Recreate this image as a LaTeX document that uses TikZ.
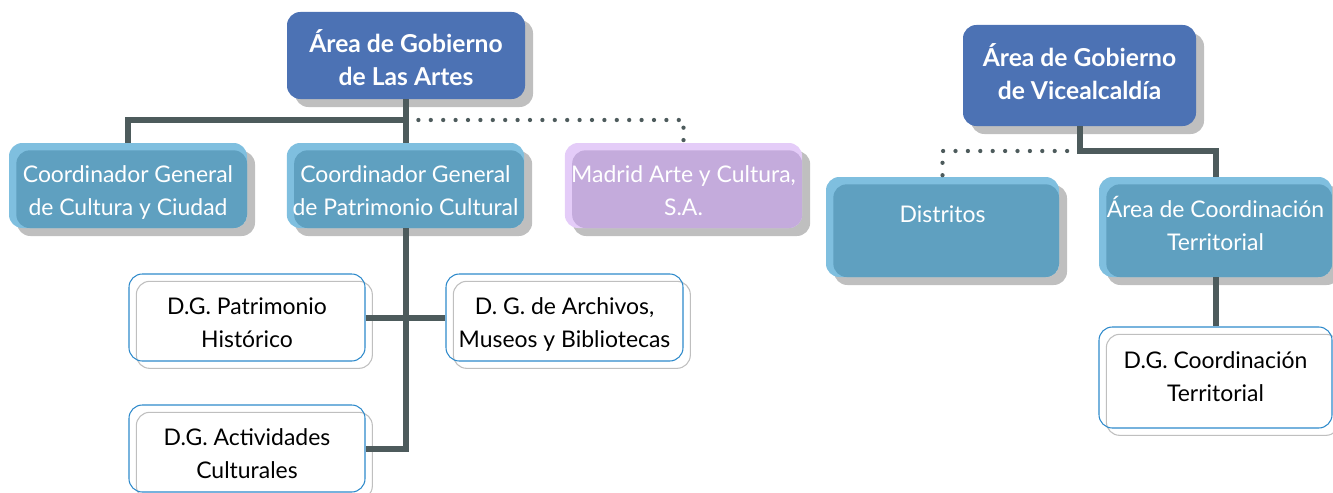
\documentclass[tikz,border=0pt]{standalone}
\usepackage{fontspec}
\setmainfont{Lato}
\usetikzlibrary{shadows}
\definecolor{titleblue}{RGB}{76,114,180}
\definecolor{rimblue}{RGB}{127,191,223}
\definecolor{midblue}{RGB}{95,160,192}
\definecolor{rimpurple}{RGB}{228,204,248}
\definecolor{midpurple}{RGB}{196,171,220}
\definecolor{shadowgray}{RGB}{191,191,191}
\definecolor{connector}{RGB}{77,91,92}
\definecolor{outlineblue}{RGB}{46,138,203}
\tikzset{
  boxtext/.style={align=center, font=\fontsize{17.2}{24.5}\selectfont, inner ysep=0pt, text depth=5pt},
  lowtext/.style={text height=49.25pt},
  hightext/.style={text height=40.25pt},
  graysh/.style={general shadow={fill=shadowgray, shadow xshift=6pt, shadow yshift=-6pt}},
  titlebox/.style={boxtext, rectangle, rounded corners=10pt, fill=titleblue, text=white,
    font=\fontsize{18.5}{24.5}\selectfont\bfseries, graysh},
  rimbox/.style 2 args={boxtext, rectangle, rounded corners=10pt, fill=#1, text=white, graysh,
    path picture={\fill[#2, rounded corners=10pt]
      ([xshift=5.5pt,yshift=-5.5pt]path picture bounding box.north west)
      rectangle (path picture bounding box.south east);}},
  bluebox/.style={rimbox={rimblue}{midblue}},
  purplebox/.style={rimbox={rimpurple}{midpurple}},
  whitebox/.style={boxtext, rectangle, rounded corners=10pt, draw=outlineblue, line width=0.8pt,
    text=black, general shadow={draw=shadowgray, fill=white, line width=0.8pt,
    shadow xshift=5.5pt, shadow yshift=-5.5pt}},
  conn/.style={draw=connector, line width=4.5pt},
  dotconn/.style={draw=connector, line width=3.2pt, line cap=round, dash pattern=on 0pt off 9.3pt},
}
\begin{document}
\begin{tikzpicture}[x=0.75pt,y=-0.75pt]
\useasboundingbox (0,0) rectangle (1333,492);
% left tree
\node[titlebox, lowtext, minimum width=178.5pt, minimum height=65.25pt] (A1) at (406,55.5)
  {Área de Gobierno\\de Las Artes};
\node[bluebox, lowtext, minimum width=178.5pt, minimum height=63.75pt] (B1) at (128,185.5)
  {Coordinador General\\de Cultura y Ciudad};
\node[bluebox, lowtext, minimum width=178pt, minimum height=63.75pt] (B2) at (405.5,185.5)
  {Coordinador General\\de Patrimonio Cultural};
\node[purplebox, lowtext, minimum width=178pt, minimum height=63.75pt] (B3) at (683.5,185.5)
  {Madrid Arte y Cultura,\\S.A.};
\node[whitebox, lowtext, minimum width=177pt, minimum height=65.25pt] (E1) at (247,317.5)
  {D.G. Patrimonio\\Histórico};
\node[whitebox, lowtext, minimum width=177.75pt, minimum height=65.25pt] (E2) at (564.5,317.5)
  {D. G. de Archivos,\\Museos y Bibliotecas};
\node[whitebox, lowtext, minimum width=177pt, minimum height=65.25pt] (E3) at (247,448.5)
  {D.G. Actividades\\Culturales};
% right tree
\node[titlebox, hightext, minimum width=174.75pt, minimum height=75.75pt] (A2) at (1079.5,75.5)
  {Área de Gobierno\\de Vicealcaldía};
\node[bluebox, text height=12.5pt, text depth=20pt, minimum width=174.75pt, minimum height=75pt] (C1) at (942.5,227)
  {Distritos};
\node[bluebox, hightext, minimum width=174.75pt, minimum height=75pt] (C2) at (1215.5,227)
  {Área de Coordinación\\Territorial};
\node[whitebox, hightext, minimum width=174.75pt, minimum height=75.75pt] (D1) at (1215.5,377.5)
  {D.G. Coordinación\\Territorial};
% junctions
\coordinate (j1) at (406,120);
\coordinate (j2) at (1079.5,151);
% connectors left
\draw[dotconn] (j1) -| (B3.north);
\draw[conn] (A1.south) -- (j1) -| (B1.north);
\draw[conn] (j1) -- (j1 |- B2.north);
\draw[conn] (B2.south) |- (E3.east);
\draw[conn] (E1.east) -- (E2.west);
% connectors right
\draw[dotconn] (j2) -| (C1.north);
\draw[conn] (A2.south) -- (j2) -| (C2.north);
\draw[conn] (C2.south) -- (D1.north);
\end{tikzpicture}
\end{document}
